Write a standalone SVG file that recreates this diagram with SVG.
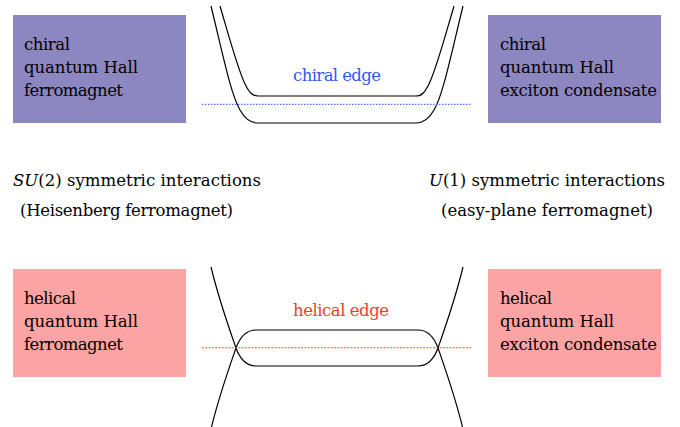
<svg xmlns="http://www.w3.org/2000/svg" width="680" height="427" viewBox="0 0 680 427">
<style>
text{font-family:'DejaVu Serif','Liberation Serif',serif;font-size:16.5px;fill:#000}
.chiral{fill:#8d87c1}
.helical{fill:#fca4a4}
.band{fill:none;stroke:#000;stroke-width:1.2}
.blue{fill:#3355ff}
.red{fill:#f53c1e}
.dotb{stroke:#4d6bff;stroke-width:1.3;stroke-dasharray:1.5 1.5;fill:none}
.dotr{stroke:#ff4a2e;stroke-width:1.1;stroke-dasharray:2 1.3;fill:none}
</style>
<rect width="680" height="427" fill="#fff"/>
<g id="chiral-qhf">
<rect class="chiral" x="13" y="15" width="173" height="108"/>
<text x="24" y="50" textLength="46">chiral</text>
<text x="24" y="73" textLength="114">quantum Hall</text>
<text x="24" y="96" textLength="99">ferromagnet</text>
</g>
<g id="chiral-qhec">
<rect class="chiral" x="488" y="15" width="173" height="108"/>
<text x="500" y="50" textLength="46">chiral</text>
<text x="500" y="73" textLength="114">quantum Hall</text>
<text x="500" y="96" textLength="157">exciton condensate</text>
</g>
<g id="helical-qhf">
<rect class="helical" x="13" y="269" width="173" height="108"/>
<text x="24" y="304" textLength="52">helical</text>
<text x="24" y="327" textLength="114">quantum Hall</text>
<text x="24" y="350" textLength="99">ferromagnet</text>
</g>
<g id="helical-qhec">
<rect class="helical" x="488" y="269" width="173" height="108"/>
<text x="500" y="304" textLength="52">helical</text>
<text x="500" y="327" textLength="114">quantum Hall</text>
<text x="500" y="350" textLength="157">exciton condensate</text>
</g>
<g id="su2-label">
<text x="13" y="186" textLength="248"><tspan font-style="italic">SU</tspan>(2) symmetric interactions</text>
<text x="20" y="216" textLength="213">(Heisenberg ferromagnet)</text>
</g>
<g id="u1-label">
<text x="429" y="186" textLength="236"><tspan font-style="italic">U</tspan>(1) symmetric interactions</text>
<text x="441" y="216" textLength="212">(easy-plane ferromagnet)</text>
</g>
<g id="chiral-edge">
<path class="band" d="M211,6 C223,55 231,95 240,110 C245,119 250,123 258,123 L416,123 C424,123 429,119 434,110 C443,95 451,55 463,6"/>
<path class="band" d="M220,6 C230,40 238,70 245,84 C249,92 252,96 258,96 L416,96 C422,96 425,92 429,84 C436,70 444,40 454,6"/>
<line class="dotb" x1="202" y1="104.3" x2="472" y2="104.3"/>
<text class="blue" x="293" y="81" textLength="88">chiral edge</text>
</g>
<g id="helical-edge">
<path class="band" d="M211,267 C219,300 228,325 236,348 C240,359 246,366 256,366 L418,366 C428,366 434,359 438,348 C446,325 455,300 463,267"/>
<path class="band" d="M211,429 C219,396 228,371 236,348 C240,337 246,330 256,330 L418,330 C428,330 434,337 438,348 C446,371 455,396 463,429"/>
<line class="dotr" x1="202" y1="347.7" x2="472" y2="347.7"/>
<text class="red" x="293" y="316" textLength="96">helical edge</text>
</g>
<g id="connectors"/>
</svg>
